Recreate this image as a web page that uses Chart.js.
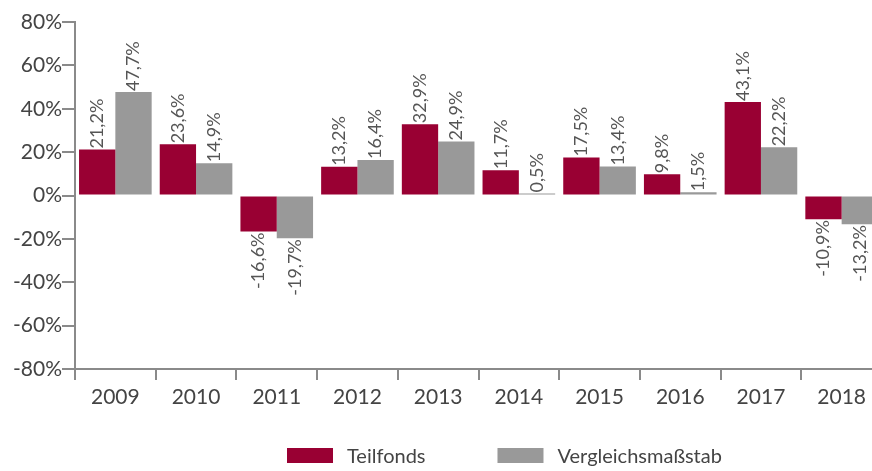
<!DOCTYPE html>
<html>
<head>
<meta charset="utf-8">
<script src="https://cdn.jsdelivr.net/npm/chart.js@4/dist/chart.umd.min.js"></script>
<style>
html,body{margin:0;padding:0;background:#fff;overflow:hidden;}
#wrap{width:882px;height:471px;}
</style>
</head>
<body>
<div id="wrap"><canvas id="c" width="882" height="471"></canvas></div>
<script>
const categories = ['2009','2010','2011','2012','2013','2014','2015','2016','2017','2018'];
const teilfonds = [21.2, 23.6, -16.6, 13.2, 32.9, 11.7, 17.5, 9.8, 43.1, -10.9];
const vergleich = [47.7, 14.9, -19.7, 16.4, 24.9, 0.5, 13.4, 1.5, 22.2, -13.2];
const seriesNames = ['Teilfonds', 'Vergleichsmaßstab'];
const yTicks = [-80, -60, -40, -20, 0, 20, 40, 60, 80];

const FONT = "Lato, 'Open Sans', sans-serif";
const AXIS = '#8a8a8a';
const TEXT = '#444444';
const PLOT_BOTTOM = 369;
const LEGEND_START_X = 287;
const LEGEND_BOX_TOP = 448;
const LEGEND_BOX_W = 46;
const LEGEND_BOX_H = 15;
const LEGEND_TEXT_GAP = 14;
const LEGEND_ITEM_GAP = 72;

const fmt = v => v.toFixed(1).replace('.', ',') + '%';

const labelPlugin = {
  id: 'barLabels',
  afterDatasetsDraw(chart) {
    const ctx = chart.ctx;
    ctx.save();
    ctx.font = "18px " + FONT;
    ctx.fillStyle = '#555555';
    ctx.textBaseline = 'middle';
    chart.data.datasets.forEach((ds, di) => {
      const meta = chart.getDatasetMeta(di);
      meta.data.forEach((el, i) => {
        const v = ds.data[i];
        ctx.save();
        ctx.translate(el.x, el.y);
        ctx.rotate(-Math.PI / 2);
        if (v >= 0) { ctx.textAlign = 'left'; ctx.fillText(fmt(v), 1, 0); }
        else { ctx.textAlign = 'right'; ctx.fillText(fmt(v), -1, 0); }
        ctx.restore();
      });
    });
    ctx.restore();
  }
};

const bottomLegend = {
  id: 'bottomLegend',
  afterDraw(chart) {
    const ctx = chart.ctx;
    ctx.save();
    ctx.font = "20px " + FONT;
    ctx.textBaseline = 'middle';
    ctx.textAlign = 'left';
    let x = LEGEND_START_X;
    const cy = LEGEND_BOX_TOP + LEGEND_BOX_H / 2;
    chart.data.datasets.forEach(ds => {
      ctx.fillStyle = ds.backgroundColor;
      ctx.fillRect(x, LEGEND_BOX_TOP, LEGEND_BOX_W, LEGEND_BOX_H);
      x += LEGEND_BOX_W + LEGEND_TEXT_GAP;
      ctx.fillStyle = TEXT;
      ctx.fillText(ds.label, x, cy + 1);
      x += ctx.measureText(ds.label).width + LEGEND_ITEM_GAP;
    });
    ctx.restore();
  }
};

new Chart(document.getElementById('c'), {
  type: 'bar',
  data: {
    labels: categories,
    datasets: [
      { label: seriesNames[0], data: teilfonds, backgroundColor: '#990033', borderWidth: 0 },
      { label: seriesNames[1], data: vergleich, backgroundColor: '#999999', borderWidth: 0 }
    ]
  },
  options: {
    responsive: false,
    animation: false,
    devicePixelRatio: 1,
    layout: { padding: { top: 22, right: 0, left: 0, bottom: 0 } },
    datasets: { bar: { categoryPercentage: 0.9, barPercentage: 1.0, minBarLength: 2 } },
    plugins: {
      tooltip: { enabled: false },
      legend: { display: false }
    },
    scales: {
      x: {
        afterFit(scale) { scale.height = scale.chart.height - PLOT_BOTTOM; },
        grid: { display: true, drawOnChartArea: false, drawTicks: true, tickLength: 11, color: AXIS, lineWidth: 2, offset: true },
        border: { display: true, color: AXIS, width: 2 },
        ticks: { color: TEXT, font: { family: FONT, size: 21 }, padding: 5, maxRotation: 0, autoSkip: false }
      },
      y: {
        min: -80, max: 80,
        afterBuildTicks(scale) { scale.ticks = yTicks.map(v => ({ value: v })); },
        afterFit(scale) { scale.width = 75; },
        grid: { display: true, drawOnChartArea: false, drawTicks: true, tickLength: 13, color: AXIS, lineWidth: 2 },
        border: { display: true, color: AXIS, width: 2 },
        ticks: { color: TEXT, font: { family: FONT, size: 21 }, padding: 0, callback: v => v + '%' }
      }
    }
  },
  plugins: [labelPlugin, bottomLegend]
});
</script>
</body>
</html>
